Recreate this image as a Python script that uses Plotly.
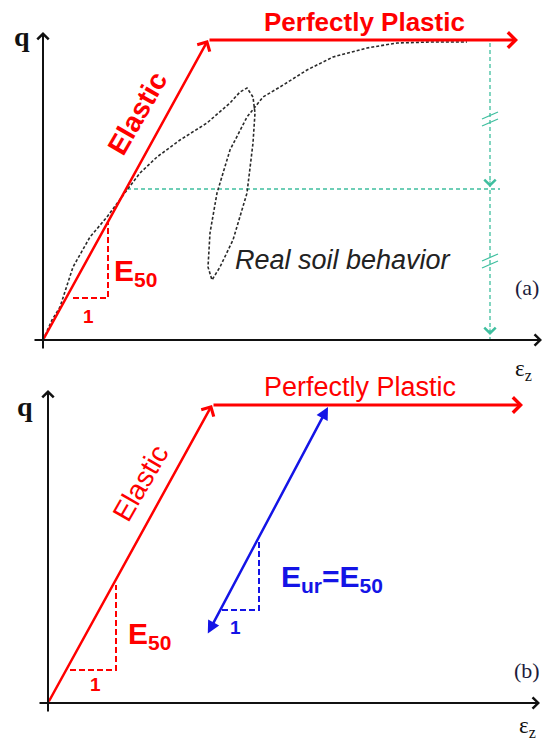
import plotly.graph_objects as go

# ---------------- data (diagram units: strain eps, deviator stress q) ----------------
# Panel (a)
A_ELASTIC_EPS = [0, 165]
A_ELASTIC_Q = [0, 300]
A_PLASTIC_EPS = [165, 475]
A_PLASTIC_Q = [300, 300]
A_SOIL_EPS = [0, 9, 17, 30, 47, 64, 84, 97, 114, 137, 164, 187, 197, 204, 210, 212, 210, 204,
              190, 177, 169, 165, 167, 174, 187, 204, 220, 237, 264, 290, 324, 354, 387, 424]
A_SOIL_Q = [0, 20, 33, 73, 103, 123, 150, 167, 183, 200, 217, 237, 248, 252, 243, 227, 197, 147,
            100, 73, 60, 73, 107, 147, 190, 223, 243, 253, 270, 283, 292, 297, 298, 298]
A_TRI_EPS = [30, 65, 65]
A_TRI_Q = [42, 42, 117]
A_Q50_EPS = [84, 457]
A_Q50_Q = [151, 151]
A_QF_EPS = [447, 447]
A_QF_Q = [297, 0]
A_ARROW_Q = [153, 5]
A_BREAK_Q = [222, 80]

# Panel (b)
B_ELASTIC_EPS = [0, 164]
B_ELASTIC_Q = [0, 298]
B_PLASTIC_EPS = [164, 475]
B_PLASTIC_Q = [298, 298]
B_TRI_EPS = [22, 68, 68]
B_TRI_Q = [33, 33, 118]
B_UR_EPS = [159, 280]
B_UR_Q = [68, 296]
B_URTRI_EPS = [174, 211, 211]
B_URTRI_Q = [93, 93, 161]

RED = "#ff0000"
BLUE = "#1414e6"
GREEN = "#3fbf9f"
BLACK = "#111111"
SANS = "Arial, Liberation Sans, sans-serif"
SERIF = "Times New Roman, Liberation Serif, serif"

fig = go.Figure()

def line(xs, ys, color, width, dash="solid", ax="x", ay="y"):
    fig.add_trace(go.Scatter(x=xs, y=ys, mode="lines", xaxis=ax, yaxis=ay,
                             line=dict(color=color, width=width, dash=dash),
                             hoverinfo="skip", showlegend=False))

anns = []

def arrow(x0, y0, x1, y1, color, width, size=1.0, head=4, xr="x", yr="y", side="end"):
    anns.append(dict(x=x1, y=y1, ax=x0, ay=y0, xref=xr, yref=yr, axref=xr, ayref=yr,
                     text="", font=dict(size=10), showarrow=True, arrowhead=head, startarrowhead=head,
                     arrowside=side, arrowwidth=width, arrowsize=size, startarrowsize=size,
                     arrowcolor=color, standoff=0, startstandoff=0))

def text(x, y, t, size, color, family=SANS, angle=0, xr="x", yr="y", xanchor="center", yanchor="middle"):
    anns.append(dict(x=x, y=y, xref=xr, yref=yr, text=t, showarrow=False, textangle=angle,
                     font=dict(size=size, color=color, family=family),
                     xanchor=xanchor, yanchor=yanchor))

# ---------------- panel (a) ----------------
line(A_Q50_EPS, A_Q50_Q, GREEN, 1.3, "4px,3px")
line(A_QF_EPS, A_QF_Q, GREEN, 1.3, "4px,3px")
for qa in A_ARROW_Q:
    arrow(A_QF_EPS[0], qa + 8, A_QF_EPS[0], qa, GREEN, 1, 2.2)
for qb in A_BREAK_Q:
    line([A_QF_EPS[0] - 8, A_QF_EPS[0] + 8], [qb - 1, qb + 6], GREEN, 1.3)
    line([A_QF_EPS[0] - 8, A_QF_EPS[0] + 8], [qb - 8, qb - 1], GREEN, 1.3)

line(A_SOIL_EPS, A_SOIL_Q, "#2a2a2a", 1.6, "3px,2px")
line(A_TRI_EPS, A_TRI_Q, RED, 2, "6px,3px")

arrow(A_ELASTIC_EPS[0], A_ELASTIC_Q[0], A_ELASTIC_EPS[1], A_ELASTIC_Q[1], RED, 2.5, 1.1)
arrow(A_PLASTIC_EPS[0], A_PLASTIC_Q[0], A_PLASTIC_EPS[1], A_PLASTIC_Q[1], RED, 3, 1.0)

# axes
arrow(-10, 0, 499, 0, BLACK, 2, 1.1)
arrow(0, -10, 0, 308, BLACK, 2, 1.1)

text(-21, 304, "<b>q</b>", 28, BLACK, SERIF)
text(480, -30, "ε<sub>z</sub>", 23, BLACK, SERIF)
text(321, 318, "<b>Perfectly Plastic</b>", 26, RED)
text(94, 227, "<b>Elastic</b>", 28, RED, angle=-60)
text(69, 68, "<b>E<sub>50</sub></b>", 30, RED, xanchor="left")
text(45, 24, "<b>1</b>", 19, RED)
text(300, 80, "<i>Real soil behavior</i>", 27, "#222222")
text(484, 53, "(a)", 22, "#1c1c3c", SERIF)

# ---------------- panel (b) ----------------
line(B_TRI_EPS, B_TRI_Q, RED, 2, "6px,3px", "x2", "y2")
line(B_URTRI_EPS, B_URTRI_Q, BLUE, 2, "6px,3px", "x2", "y2")
arrow(B_ELASTIC_EPS[0], B_ELASTIC_Q[0], B_ELASTIC_EPS[1], B_ELASTIC_Q[1], RED, 2.5, 1.1, xr="x2", yr="y2")
arrow(B_PLASTIC_EPS[0], B_PLASTIC_Q[0], B_PLASTIC_EPS[1], B_PLASTIC_Q[1], RED, 3, 1.0, xr="x2", yr="y2")
arrow(B_UR_EPS[0], B_UR_Q[0], B_UR_EPS[1], B_UR_Q[1], BLUE, 2.5, 1.0, head=2, xr="x2", yr="y2", side="end+start")

arrow(-10, 0, 492, 0, BLACK, 2, 1.1, xr="x2", yr="y2")
arrow(0, -10, 0, 313, BLACK, 2, 1.1, xr="x2", yr="y2")

text(-23, 297, "<b>q</b>", 28, BLACK, SERIF, xr="x2", yr="y2")
text(479, -24, "ε<sub>z</sub>", 23, BLACK, SERIF, xr="x2", yr="y2")
text(312, 316, "Perfectly Plastic", 27, RED, xr="x2", yr="y2")
text(92, 220, "Elastic", 28, RED, angle=-60, xr="x2", yr="y2")
text(78, 68, "<b>E<sub>50</sub></b>", 30, RED, xanchor="left", xr="x2", yr="y2")
text(47, 19, "<b>1</b>", 19, RED, xr="x2", yr="y2")
text(187, 76, "<b>1</b>", 19, BLUE, xr="x2", yr="y2")
text(231, 125, "<b>E<sub>ur</sub>=E<sub>50</sub></b>", 30, BLUE, xanchor="left", xr="x2", yr="y2")
text(479, 33, "(b)", 22, "#1c1c3c", SERIF, xr="x2", yr="y2")

SPLIT = 1 - 380 / 742
hidden = dict(visible=False, showgrid=False, zeroline=False, fixedrange=True)
fig.update_layout(
    width=543, height=742, margin=dict(l=0, r=0, t=0, b=0),
    paper_bgcolor="white", plot_bgcolor="white", showlegend=False,
    xaxis=dict(domain=[0, 1], range=[-43, 500], anchor="y", **hidden),
    yaxis=dict(domain=[SPLIT, 1], range=[-40, 340], anchor="x", **hidden),
    xaxis2=dict(domain=[0, 1], range=[-48, 495], anchor="y2", **hidden),
    yaxis2=dict(domain=[0, SPLIT], range=[-39, 323], anchor="x2", **hidden),
    annotations=anns,
)
fig.write_html(
    "out.html",
    config={"displayModeBar": False, "staticPlot": True},
    post_script="document.body.style.margin='0';document.body.style.padding='0';"
                "document.body.style.overflow='hidden';",
)
